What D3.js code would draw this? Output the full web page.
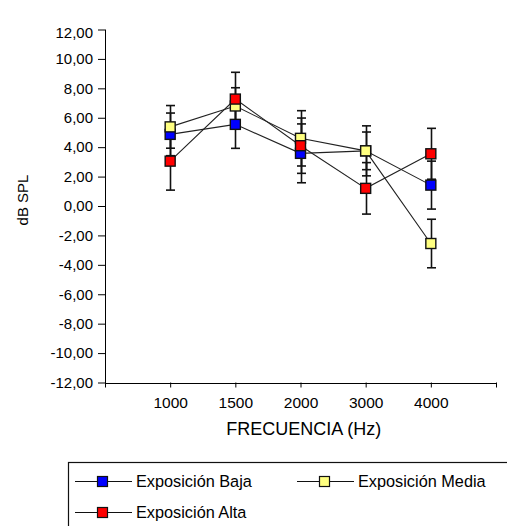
<!DOCTYPE html>
<html><head><meta charset="utf-8">
<script src="https://cdn.jsdelivr.net/npm/d3@7"></script>
<style>body{margin:0;background:#fff}svg{display:block}text{font-family:Arial,"Liberation Sans",sans-serif;fill:#000}</style>
</head><body><svg id="c" width="507" height="526"></svg>
<script>
const categories = ["1000","1500","2000","3000","4000"];
const seriesNames = ["Exposición Baja","Exposición Media","Exposición Alta"];
const bajaValues  = [4.87, 5.55, 3.58, 3.75, 1.42];
const bajaErrors  = [1.45, 1.63, 2.00, 1.70, 1.63];
const mediaValues = [5.38, 6.80, 4.60, 3.75, -2.55];
const mediaErrors = [1.45, 1.24, 1.88, 1.28, 1.65];
const altaValues  = [3.05, 7.27, 4.10, 1.20, 3.55];
const altaErrors  = [1.97, 1.82, 1.88, 1.75, 1.73];
const yTicks = [12,10,8,6,4,2,0,-2,-4,-6,-8,-10,-12];
const colors = ["#0000ff","#ffff80","#ff0000"];

const series = [
  {name: seriesNames[0], values: bajaValues, errors: bajaErrors, color: colors[0]},
  {name: seriesNames[1], values: mediaValues, errors: mediaErrors, color: colors[1]},
  {name: seriesNames[2], values: altaValues, errors: altaErrors, color: colors[2]}
];

const svg = d3.select("#c");
const FS = 15;
const x = d3.scaleLinear().domain([0, categories.length + 1]).range([105, 496]);
const y = d3.scaleLinear().domain([-12, 12]).range([382.5, 29.5]);
const fmt = v => (v < 0 ? "-" : "") + Math.abs(v).toFixed(2).replace(".", ",");

// Y axis
const yAxis = d3.axisLeft(y).tickValues(yTicks).tickSize(7).tickPadding(5).tickFormat(fmt);
const gy = svg.append("g").attr("transform", "translate(105,0)").call(yAxis);
gy.select(".domain").remove();
gy.selectAll("text").style("font-size", FS + "px").attr("fill", "#111").style("font-family", "Arial");
gy.selectAll(".tick").filter(d => d === 12).select("text").attr("y", 3);
gy.selectAll("line").attr("stroke", "#000");
svg.append("line").attr("x1", 105.5).attr("x2", 105.5).attr("y1", y(12)).attr("y2", y(-12) + 5).attr("stroke", "#000");

// X axis
const xAxis = d3.axisBottom(x).tickValues(d3.range(1, categories.length + 2)).tickSize(5).tickPadding(9)
  .tickFormat(i => categories[i - 1] || "");
const gx = svg.append("g").attr("transform", `translate(0,${y(-12)})`).call(xAxis);
gx.select(".domain").remove();
gx.selectAll("text").style("font-size", "15.5px").attr("fill", "#111").style("font-family", "Arial");
gx.selectAll("line").attr("stroke", "#000");
svg.append("line").attr("x1", 105).attr("x2", 496).attr("y1", Math.round(y(-12)) + 0.5).attr("y2", Math.round(y(-12)) + 0.5).attr("stroke", "#000");

svg.append("text").attr("x", x(3.05)).attr("y", 435).attr("text-anchor", "middle").style("font-size", "18px").attr("fill", "#111").text("FRECUENCIA (Hz)");
svg.append("text").attr("transform", "translate(28,200) rotate(-90)").attr("text-anchor", "middle").style("font-size", "15px").attr("fill", "#111").text("dB SPL");

// error bars
const plot = svg.append("g");
series.forEach(s => {
  s.values.forEach((v, i) => {
    const cx = Math.round(x(i + 1)) + 0.5;
    const t = y(v + s.errors[i]), b = y(v - s.errors[i]);
    plot.append("line").attr("x1", cx).attr("x2", cx).attr("y1", t).attr("y2", b).attr("stroke", "#111").attr("stroke-width", 1.6);
    [t, b].forEach(yy => plot.append("line").attr("x1", cx - 4.5).attr("x2", cx + 4.5).attr("y1", yy).attr("y2", yy).attr("stroke", "#111").attr("stroke-width", 1.6));
  });
});
// lines
const line = d3.line().x((v, i) => x(i + 1)).y(v => y(v));
series.forEach(s => {
  plot.append("path").attr("d", line(s.values)).attr("fill", "none").attr("stroke", "#222").attr("stroke-width", 1.1);
});
// markers
series.forEach(s => {
  s.values.forEach((v, i) => {
    plot.append("rect").attr("x", x(i + 1) - 5).attr("y", y(v) - 5).attr("width", 10).attr("height", 10)
      .attr("fill", s.color).attr("stroke", "#111").attr("stroke-width", 1.4);
  });
});

// legend
const lg = svg.append("g");
lg.append("rect").attr("x", 68.5).attr("y", 462.5).attr("width", 460).attr("height", 80).attr("fill", "none").attr("stroke", "#111").attr("stroke-width", 1.2);
const legendPos = [[75, 481], [297, 481], [75, 512]];
series.forEach((s, k) => {
  const [lx, ly] = legendPos[k];
  lg.append("line").attr("x1", lx).attr("x2", lx + 57).attr("y1", ly + 0.5).attr("y2", ly + 0.5).attr("stroke", "#111");
  lg.append("rect").attr("x", lx + 22.5).attr("y", ly - 4.5).attr("width", 10).attr("height", 10).attr("fill", s.color).attr("stroke", "#111").attr("stroke-width", 1.2);
  lg.append("text").attr("x", lx + 61).attr("y", ly + 5.5).style("font-size", "16.3px").attr("fill", "#111").text(s.name);
});
</script></body></html>
